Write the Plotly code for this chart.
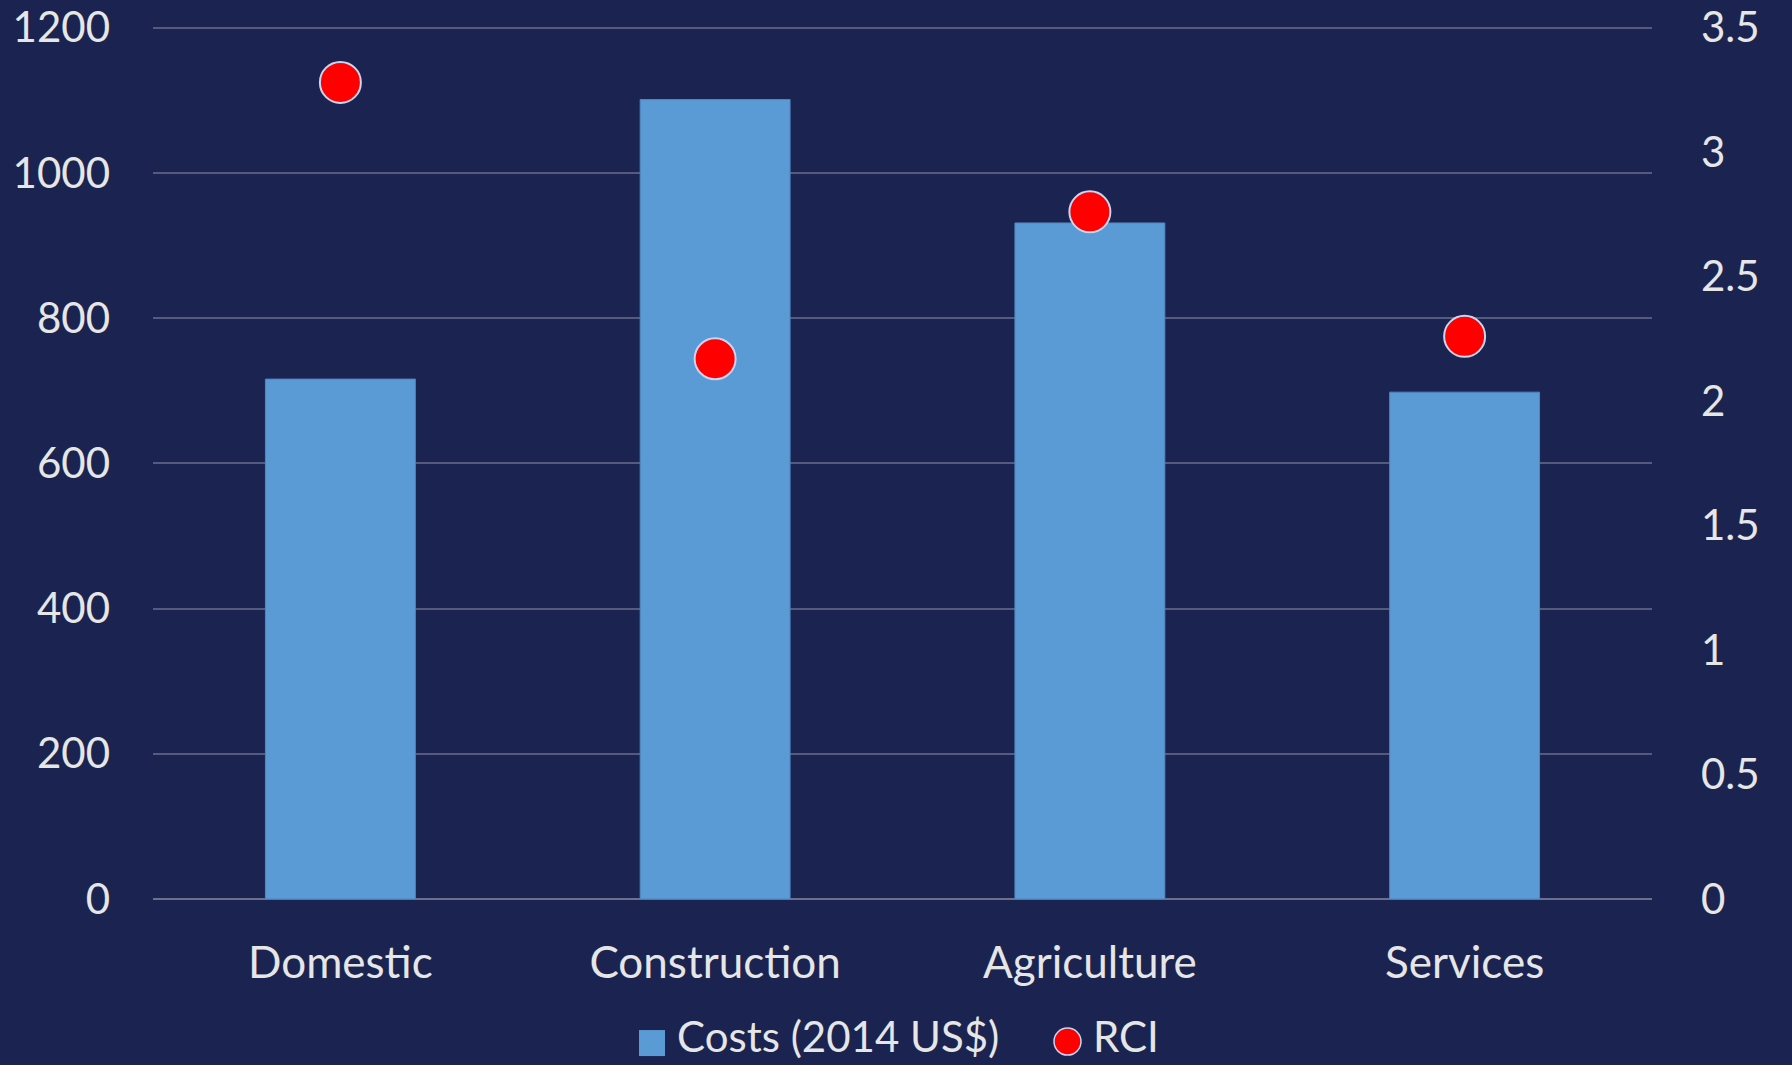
import plotly.graph_objects as go

categories = ["Domestic", "Construction", "Agriculture", "Services"]
costs = [716, 1101, 931, 698]
rci = [3.28, 2.17, 2.76, 2.26]
legend_labels = ["Costs (2014 US$)", "RCI"]

BG = "#1B2450"
TXT = "#E6E6E6"
BAR = "#5B9BD5"
DOT = "#FF0000"
DOT_EDGE = "#C8D6F2"
FONT = "Lato, 'Open Sans', sans-serif"

fig = go.Figure()
fig.add_trace(go.Bar(
    x=categories, y=costs, name=legend_labels[0],
    marker=dict(color=BAR, line=dict(color="#4F86C0", width=1)),
    width=0.4, yaxis="y", showlegend=False,
))
fig.add_trace(go.Scatter(
    x=categories, y=rci, name=legend_labels[1], mode="markers",
    marker=dict(color=DOT, size=41, line=dict(color=DOT_EDGE, width=2)),
    yaxis="y2", showlegend=False,
))

# plot area in px (top extended slightly so the 1200 gridline is drawn)
L, R, T, B = 153, 1652, 24.4, 899
YMAX = 1205

def px(x):
    return (x - L) / (R - L)

def py(y):
    return (B - y) / (B - T)

# custom legend
fig.add_shape(type="rect", xref="paper", yref="paper",
              x0=px(639), x1=px(665), y0=py(1056), y1=py(1030),
              fillcolor=BAR, line=dict(width=0))
fig.add_shape(type="circle", xref="paper", yref="paper",
              x0=px(1054), x1=px(1081), y0=py(1055), y1=py(1028),
              fillcolor=DOT, line=dict(color=DOT_EDGE, width=1.5))
fig.add_annotation(text=legend_labels[0], xref="paper", yref="paper",
                   x=px(676), y=py(1036), xanchor="left", yanchor="middle",
                   showarrow=False, borderpad=0,
                   font=dict(size=42, color=TXT, family=FONT))
fig.add_annotation(text=legend_labels[1], xref="paper", yref="paper",
                   x=px(1092), y=py(1036), xanchor="left", yanchor="middle",
                   showarrow=False, borderpad=0,
                   font=dict(size=42, color=TXT, family=FONT))

fig.update_layout(
    width=1792, height=1065,
    paper_bgcolor=BG, plot_bgcolor=BG,
    margin=dict(l=L, r=1792 - R, t=T, b=1065 - B, autoexpand=False),
    font=dict(family=FONT, color=TXT, size=40),
    showlegend=False,
    xaxis=dict(
        showgrid=False, showline=False, zeroline=False, automargin=False,
        tickfont=dict(size=44, color=TXT), ticklabelstandoff=34,
    ),
    yaxis=dict(
        range=[0, YMAX], tickvals=[0, 200, 400, 600, 800, 1000, 1200],
        showgrid=True, automargin=False,
        gridcolor="rgba(255,255,255,0.25)", gridwidth=1.5,
        zeroline=True, zerolinecolor="rgba(255,255,255,0.35)", zerolinewidth=1.5,
        showline=False, tickfont=dict(size=42, color=TXT),
        ticklabelstandoff=42,
    ),
    yaxis2=dict(
        range=[0, 3.5 * YMAX / 1200], tickvals=[0, 0.5, 1, 1.5, 2, 2.5, 3, 3.5],
        overlaying="y", side="right", automargin=False,
        showgrid=False, zeroline=False, showline=False,
        tickfont=dict(size=42, color=TXT), ticklabelstandoff=48,
    ),
)

fig.write_html("out.html")
